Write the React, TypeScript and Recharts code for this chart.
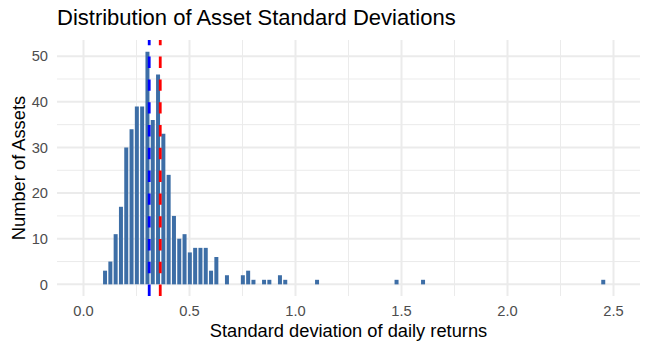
import { BarChart, Bar, XAxis, YAxis, CartesianGrid, ReferenceLine, Label } from 'recharts';

// histogram bins (centre of bin, width 0.025) with a non-zero count
const binCenters = [
  0.1, 0.125, 0.15, 0.175, 0.2, 0.225, 0.25, 0.275, 0.3, 0.325, 0.35, 0.375,
  0.4, 0.425, 0.45, 0.475, 0.5, 0.525, 0.55, 0.575, 0.6, 0.625, 0.675, 0.75,
  0.775, 0.8, 0.85, 0.875, 0.925, 0.95, 1.1, 1.475, 1.6, 2.45,
];
const assetCounts = [
  3, 5, 11, 17, 30, 34, 39, 39, 51, 36, 46, 33,
  24, 15, 10, 11, 7, 8, 8, 8, 3, 6, 2, 2,
  3, 1, 1, 1, 2, 1, 1, 1, 1, 1,
];

const xTicks = [0, 0.5, 1, 1.5, 2, 2.5];
const xMinorTicks = [0.25, 0.75, 1.25, 1.75, 2.25];
const yTicks = [0, 10, 20, 30, 40, 50];
const yMinorTicks = [5, 15, 25, 35, 45];

const medianSd = 0.31;
const meanSd = 0.362;

const FONT = '"Liberation Sans", Arial, Helvetica, sans-serif';
const GRID = '#EBEBEB';

export default function App() {
  const data = binCenters.map((sd, i) => ({ sd, count: assetCounts[i] }));

  return (
    <div style={{ position: 'absolute', left: 0, top: 0, width: 650, height: 350, fontFamily: FONT, background: '#fff' }}>
      <div
        style={{
          position: 'absolute',
          left: 57,
          top: 7,
          fontSize: 22,
          lineHeight: '22px',
          color: '#000',
          whiteSpace: 'nowrap',
        }}
      >
        Distribution of Asset Standard Deviations
      </div>
      <BarChart
        width={650}
        height={350}
        data={data}
        margin={{ top: 40, right: 10, bottom: 0, left: 0 }}
        style={{ fontFamily: FONT }}
      >
        <CartesianGrid stroke={GRID} strokeWidth={1} horizontalValues={yMinorTicks} verticalValues={xMinorTicks} />
        <CartesianGrid stroke={GRID} strokeWidth={2} horizontalValues={yTicks} verticalValues={xTicks} />
        <XAxis
          dataKey="sd"
          type="number"
          domain={[-0.125, 2.625]}
          ticks={xTicks}
          tickFormatter={(v: number) => v.toFixed(1)}
          allowDataOverflow
          axisLine={false}
          tickLine={false}
          tickSize={6}
          tickMargin={4}
          height={54}
          tick={{ fill: '#4D4D4D', fontSize: 14.7 }}
        >
          <Label
            value="Standard deviation of daily returns"
            position="insideBottom"
            offset={12.7}
            style={{ fontSize: 18.3, fill: '#000' }}
          />
        </XAxis>
        <YAxis
          type="number"
          domain={[-2.55, 53.55]}
          ticks={yTicks}
          allowDataOverflow
          axisLine={false}
          tickLine={false}
          tickSize={6}
          tickMargin={3}
          width={57}
          tick={{ fill: '#4D4D4D', fontSize: 14.7 }}
        >
          <Label
            value="Number of Assets"
            angle={-90}
            position="insideLeft"
            offset={18.5}
            style={{ fontSize: 18.3, fill: '#000', textAnchor: 'middle' }}
          />
        </YAxis>
        <Bar dataKey="count" fill="#3D6EA6" barSize={4} isAnimationActive={false} />
        <ReferenceLine x={medianSd} stroke="#0000FF" strokeWidth={2.8} strokeDasharray="11.4 11.4" />
        <ReferenceLine x={meanSd} stroke="#FF0000" strokeWidth={2.8} strokeDasharray="11.4 11.4" />
      </BarChart>
    </div>
  );
}
